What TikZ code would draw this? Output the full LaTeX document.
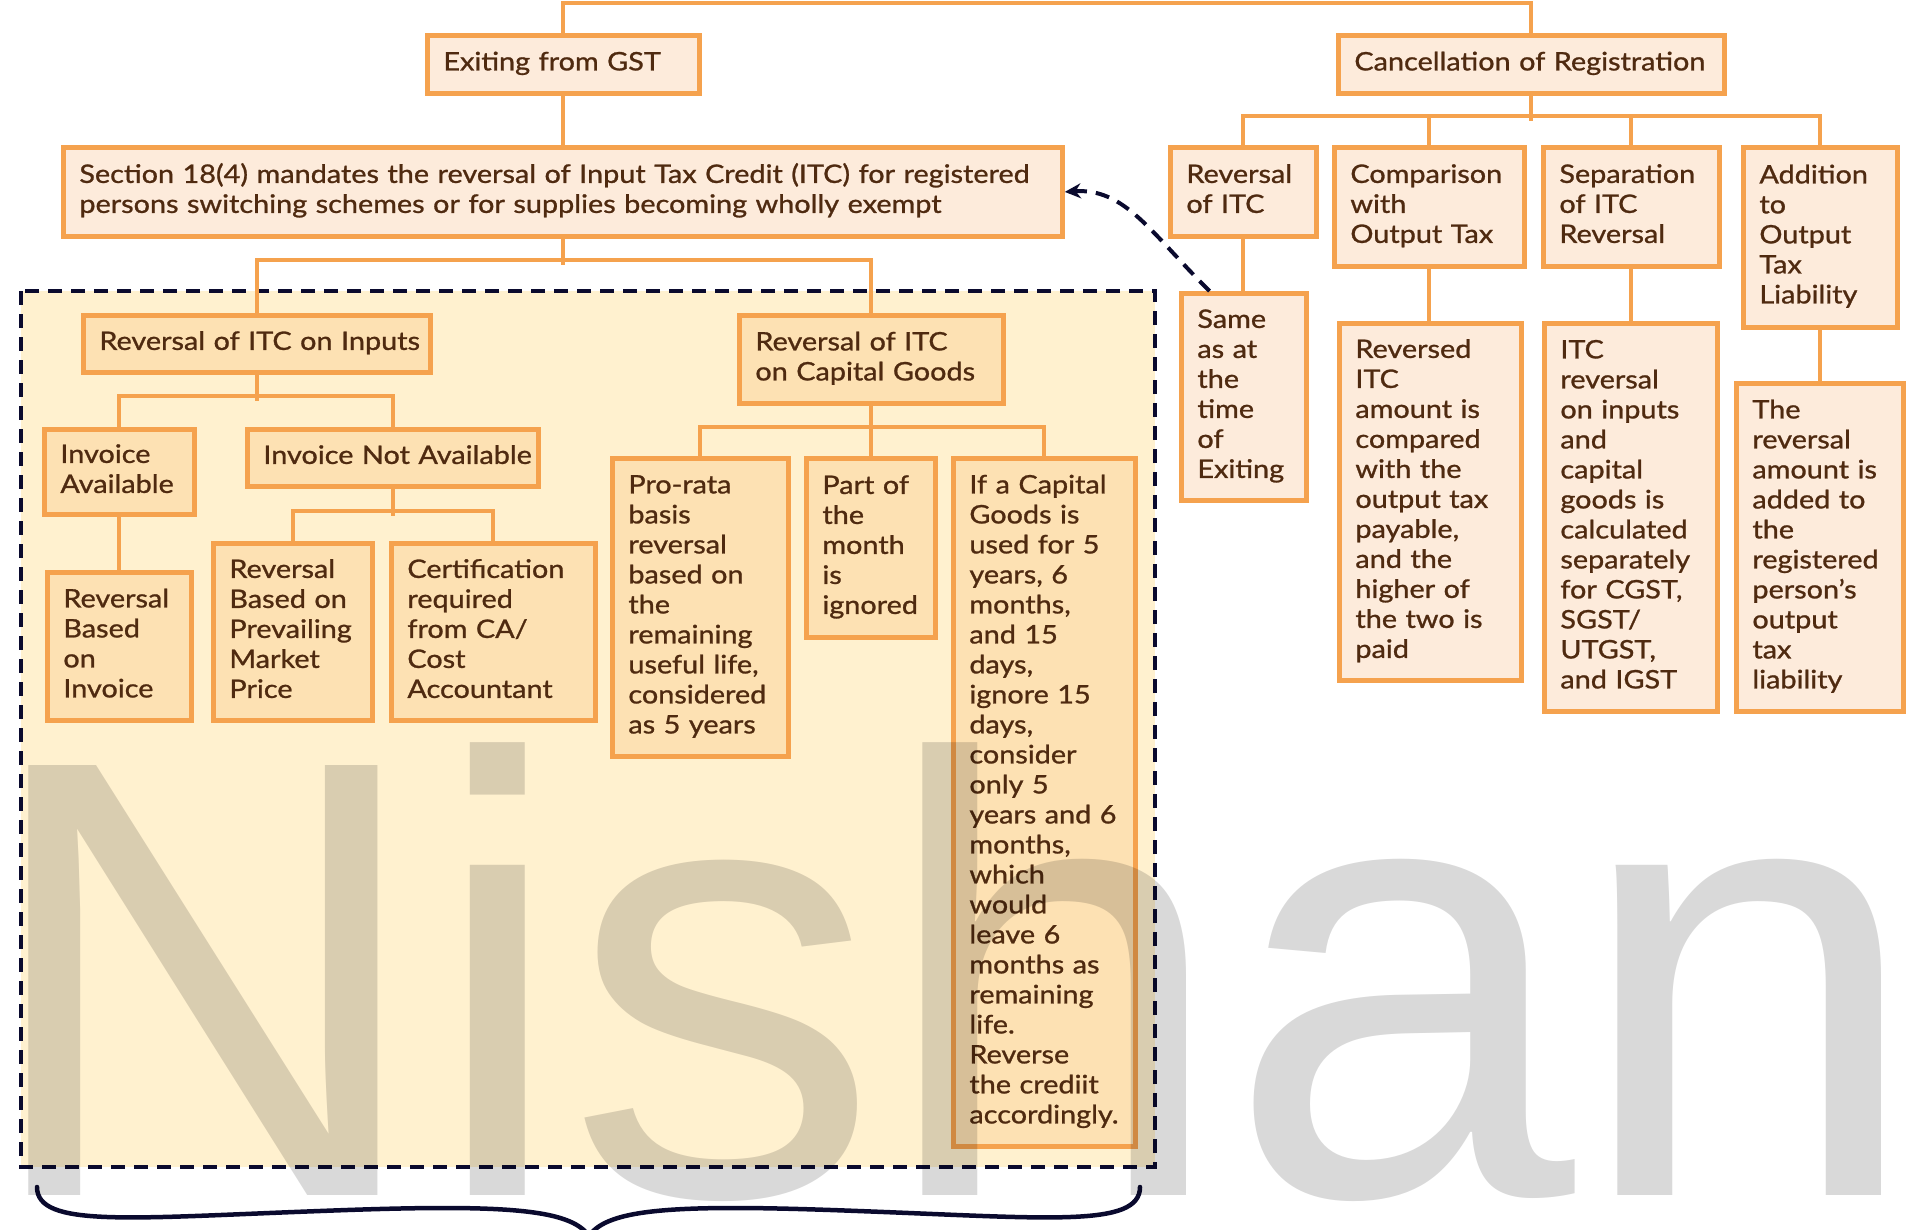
\documentclass[tikz,border=0pt]{standalone}
\usepackage{fontspec}
\setmainfont{Lato}[FakeStretch=1.13,FakeBold=1]
\newfontfamily\markfont{Liberation Sans}
\usetikzlibrary{arrows.meta}

\definecolor{boxline}{HTML}{F5A24E}
\definecolor{outerfill}{HTML}{FDEBDB}
\definecolor{innerfill}{HTML}{FDE1B3}
\definecolor{regionfill}{HTML}{FFF1CF}
\definecolor{navy}{HTML}{0A0A2E}
\definecolor{ink}{HTML}{4F2A10}

% lines of a box label, set as one unbreakable block
\newcommand\lns[1]{\begin{tabular}{@{}l@{}}#1\end{tabular}}

\begin{document}
\begin{tikzpicture}[x=1pt,y=-1pt,
  box/.style={draw=boxline, line width=4.8pt, fill=outerfill, text=ink,
    anchor=north west, align=left, inner xsep=16pt, inner ysep=0pt,
    font=\fontsize{25.5}{30}\selectfont},
  inbox/.style={box, fill=innerfill},
  sz/.style 2 args={minimum width=#1, minimum height=#2, text width=#1-32},
  conn/.style={draw=boxline, line width=4pt},
  dashlink/.style={draw=navy, line width=4pt, dash pattern=on 14pt off 9pt},
]
\useasboundingbox (0,0) rectangle (1922,1229);

% shaded group with dashed outline
\draw[dashlink, fill=regionfill] (21,291) rectangle (1155,1167);

% ---- boxes ----
\node[box, sz={272}{58}] (exit) at (425,33) {\lns{Exiting from GST}};
\node[box, sz={386}{58}] (canc) at (1336,33) {\lns{Cancellation of Registration}};
\node[box, sz={999}{89}] (sec) at (61,145)
  {\lns{Section 18(4) mandates the reversal of Input Tax Credit (ITC) for registered\\persons switching schemes or for supplies becoming wholly exempt}};

\node[inbox, sz={347}{57}] (inp) at (81,313) {\lns{Reversal of ITC on Inputs}};
\node[inbox, sz={264}{88}] (cap) at (737,313) {\lns{Reversal of ITC\\on Capital Goods}};

\node[inbox, sz={150}{85}] (invA) at (42,427) {\lns{Invoice\\Available}};
\node[inbox, sz={291}{57}] (invN) at (245,427) {\lns{Invoice Not Available}};
\node[inbox, sz={144}{148}] (revInv) at (45,570) {\lns{Reversal\\Based\\on\\Invoice}};
\node[inbox, sz={159}{177}] (prev) at (211,541) {\lns{Reversal\\Based on\\Prevailing\\Market\\Price}};
\node[inbox, sz={204}{177}] (cert) at (389,541) {\lns{Certification\\required\\from CA/\\Cost\\Accountant}};

\node[inbox, sz={176}{298}] (pro) at (610,456)
  {\lns{Pro-rata\\basis\\reversal\\based on\\the\\remaining\\useful life,\\considered\\as 5 years}};
\node[inbox, sz={129}{179}] (part) at (804,456) {\lns{Part of\\the\\month\\is\\ignored}};
\node[inbox, sz={182}{688}] (ifa) at (951,456)
  {\lns{If a Capital\\Goods is\\used for 5\\years, 6\\months,\\and 15\\days,\\ignore 15\\days,\\consider\\only 5\\years and 6\\months,\\which\\would\\leave 6\\months as\\remaining\\life.\\Reverse\\the crediit\\accordingly.}};

\node[box, sz={146}{89}] (ritc) at (1168,145) {\lns{Reversal\\of ITC}};
\node[box, sz={190}{119}] (comp) at (1332,145) {\lns{Comparison\\with\\Output Tax}};
\node[box, sz={176}{119}] (sep) at (1541,145) {\lns{Separation\\of ITC\\Reversal}};
\node[box, sz={154}{180}] (addn) at (1741,145) {\lns{Addition\\to\\Output\\Tax\\Liability}};

\node[box, sz={125}{207}] (same) at (1179,291) {\lns{Same\\as at\\the\\time\\of\\Exiting}};
\node[box, sz={182}{357}] (revd) at (1337,321)
  {\lns{Reversed\\ITC\\amount is\\compared\\with the\\output tax\\payable,\\and the\\higher of\\the two is\\paid}};
\node[box, sz={173}{388}] (itcr) at (1542,321)
  {\lns{ITC\\reversal\\on inputs\\and\\capital\\goods is\\calculated\\separately\\for CGST,\\SGST/\\UTGST,\\and IGST}};
\node[box, sz={167}{328}] (ther) at (1734,381)
  {\lns{The\\reversal\\amount is\\added to\\the\\registered\\person's\\output\\tax\\liability}};

% ---- tree connectors ----
\draw[conn] (exit.north) -- ++(0,-30) -| (canc.north);
\draw[conn] (exit.south) -- (exit.south |- sec.north);

\draw[conn] (sec.south) -- ++(0,26);
\draw[conn] (inp.north) -- ++(0,-53) -| (cap.north);

\draw[conn] (inp.south) -- ++(0,26);
\draw[conn] (invA.north) -- ++(0,-31) -| (invN.north);
\draw[conn] (invA.south) -- (invA.south |- revInv.north);
\draw[conn] (invN.south) -- ++(0,27);
\draw[conn] (prev.north) -- ++(0,-30) -| (cert.north);

\draw[conn] (cap.south) -- (cap.south |- part.north);
\draw[conn] (pro.north) -- ++(0,-29) -| (ifa.north);

\draw[conn] (canc.south) -- ++(0,25);
\draw[conn] (ritc.north) -- ++(0,-29) -| (addn.north);
\draw[conn] (comp.north) -- ++(0,-29);
\draw[conn] (sep.north) -- ++(0,-29);
\draw[conn] (ritc.south) -- (ritc.south |- same.north);
\draw[conn] (comp.south) -- (comp.south |- revd.north);
\draw[conn] (sep.south) -- (sep.south |- itcr.north);
\draw[conn] (addn.south) -- (addn.south |- ther.north);

% ---- dashed cross link ----
\draw[dashlink, -{Stealth[length=16pt,width=15pt]}]
  (same.108) .. controls (1150,232) and (1125,188) .. (sec.east);

% ---- brace under the shaded group ----
\draw[navy, line width=4.5pt, line cap=round]
  (37,1187) .. controls (37,1228) and (130,1218) .. (320,1211)
            .. controls (500,1204) and (570,1208) .. (589,1236);
\draw[navy, line width=4.5pt, line cap=round]
  (1140,1187) .. controls (1140,1228) and (1048,1218) .. (858,1211)
              .. controls (678,1204) and (608,1208) .. (589,1236);

% ---- watermark ----
\node[anchor=base west, inner sep=0pt, text=black, text opacity=0.15,
      font=\markfont\fontsize{625}{625}\selectfont] (mark) at (-23,1195) {Nishan};
\end{tikzpicture}
\end{document}
